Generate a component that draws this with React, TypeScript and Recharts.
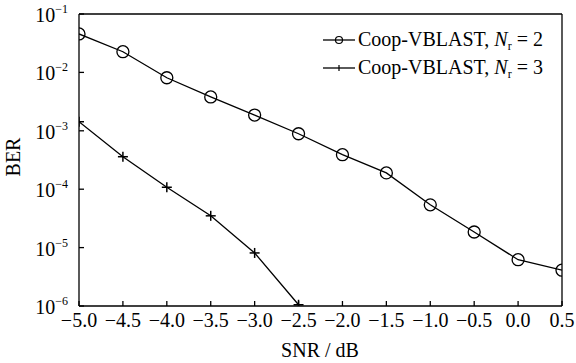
import React from "react"
import { LineChart, Line, XAxis, YAxis, ReferenceLine } from "recharts"

const snr = [-5.0, -4.5, -4.0, -3.5, -3.0, -2.5, -2.0, -1.5, -1.0, -0.5, 0.0, 0.5]
// BER, Coop-VBLAST Nr = 2
const berNr2 = [4.55e-2, 2.26e-2, 8.1e-3, 3.8e-3, 1.86e-3, 8.9e-4, 3.9e-4, 1.9e-4, 5.4e-5, 1.85e-5, 6.2e-6, 4.1e-6]
// BER, Coop-VBLAST Nr = 3 (stops at -2.5 dB)
const berNr3 = [1.43e-3, 3.6e-4, 1.08e-4, 3.5e-5, 8.1e-6, 1.05e-6]

const xTicks = [-5.0, -4.5, -4.0, -3.5, -3.0, -2.5, -2.0, -1.5, -1.0, -0.5, 0.0, 0.5]
const yTicks = [1e-6, 1e-5, 1e-4, 1e-3, 1e-2, 1e-1]

const data = snr.map((s, i) => ({
  snr: s,
  nr2: berNr2[i],
  nr3: i < berNr3.length ? berNr3[i] : null,
}))

const FONT = '"Liberation Serif", "Times New Roman", serif'

const fmtX = (v: number) => v.toFixed(1).replace("-", "\u2212")

const XTick = (props: any) => {
  const { x, y, payload } = props
  return (
    <g>
      <line x1={x} x2={x} y1={y} y2={y - 5} stroke="#000" strokeWidth={1.3} />
      <text x={x} y={y + 21} textAnchor="middle" fontSize={20} fontFamily={FONT} fill="#000">
        {fmtX(payload.value)}
      </text>
    </g>
  )
}

const YTick = (props: any) => {
  const { x, y, payload } = props
  const exp = Math.round(Math.log10(payload.value))
  return (
    <g>
      <line x1={x} x2={x + 5} y1={y} y2={y} stroke="#000" strokeWidth={1.3} />
      <text x={x - 11} y={y + 8} textAnchor="end" fontFamily={FONT} fill="#000">
        <tspan fontSize={20}>10</tspan>
        <tspan fontSize={12} dy={-9}>{String(exp).replace("-", "\u2212")}</tspan>
      </text>
    </g>
  )
}

const CircleDot = (props: any) => {
  const { cx, cy, index } = props
  if (cx == null || cy == null) return <g key={"c" + index} />
  return <circle key={"c" + index} cx={cx} cy={cy} r={6} fill="none" stroke="#000" strokeWidth={1.3} />
}

const PlusDot = (props: any) => {
  const { cx, cy, index } = props
  if (cx == null || cy == null) return <g key={"p" + index} />
  return (
    <g key={"p" + index}>
      <line x1={cx - 5} x2={cx + 5} y1={cy} y2={cy} stroke="#000" strokeWidth={1.5} />
      <line x1={cx} x2={cx} y1={cy - 5} y2={cy + 5} stroke="#000" strokeWidth={1.5} />
    </g>
  )
}

const LegendRow = ({ marker, n }: { marker: "circle" | "plus"; n: number }) => (
  <div style={{ display: "flex", alignItems: "center", height: 28 }}>
    <svg width={32} height={28}>
      <line x1={0} x2={32} y1={14} y2={14} stroke="#000" strokeWidth={1.3} />
      {marker === "circle" ? (
        <circle cx={16} cy={14} r={3.5} fill="none" stroke="#000" strokeWidth={1.2} />
      ) : (
        <line x1={16} x2={16} y1={11} y2={17} stroke="#000" strokeWidth={1.2} />
      )}
    </svg>
    <span style={{ marginLeft: 3, fontSize: 20, lineHeight: "28px", whiteSpace: "nowrap" }}>
      Coop-VBLAST, <i>N</i>
      <span style={{ fontSize: 12, position: "relative", top: 4 }}>r</span> = {n}
    </span>
  </div>
)

export default function App() {
  return (
    <div
      style={{
        position: "absolute",
        left: 0,
        top: 0,
        width: 576,
        height: 363,
        background: "#fff",
        fontFamily: FONT,
        color: "#000",
      }}
    >
      <LineChart width={576} height={363} data={data} margin={{ top: 14, right: 14, left: 0, bottom: 0 }}>
        <XAxis
          dataKey="snr"
          type="number"
          domain={[-5, 0.5]}
          ticks={xTicks}
          interval={0}
          height={57}
          tickSize={0}
          tickMargin={0}
          tickLine={false}
          axisLine={{ stroke: "#000", strokeWidth: 1.3 }}
          tick={<XTick />}
          allowDataOverflow
        />
        <YAxis
          type="number"
          scale="log"
          domain={[1e-6, 1e-1]}
          ticks={yTicks}
          interval={0}
          width={79}
          tickSize={0}
          tickMargin={0}
          tickLine={false}
          axisLine={{ stroke: "#000", strokeWidth: 1.3 }}
          tick={<YTick />}
          allowDataOverflow
        />
        <ReferenceLine y={1e-1} stroke="#000" strokeWidth={1.3} />
        <ReferenceLine x={0.5} stroke="#000" strokeWidth={1.3} />
        <Line
          dataKey="nr2"
          type="linear"
          stroke="#000"
          strokeWidth={1.3}
          dot={CircleDot}
          activeDot={false}
          isAnimationActive={false}
        />
        <Line
          dataKey="nr3"
          type="linear"
          stroke="#000"
          strokeWidth={1.3}
          dot={PlusDot}
          activeDot={false}
          isAnimationActive={false}
        />
      </LineChart>

      <div style={{ position: "absolute", left: 323, top: 26 }}>
        <LegendRow marker="circle" n={2} />
        <LegendRow marker="plus" n={3} />
      </div>

      <div
        style={{
          position: "absolute",
          left: 13,
          top: 157,
          fontSize: 20,
          transform: "translate(-50%, -50%) rotate(-90deg)",
          whiteSpace: "nowrap",
        }}
      >
        BER
      </div>
      <div
        style={{
          position: "absolute",
          left: 320,
          top: 350,
          fontSize: 20,
          transform: "translate(-50%, -50%)",
          whiteSpace: "nowrap",
        }}
      >
        SNR / dB
      </div>
    </div>
  )
}
